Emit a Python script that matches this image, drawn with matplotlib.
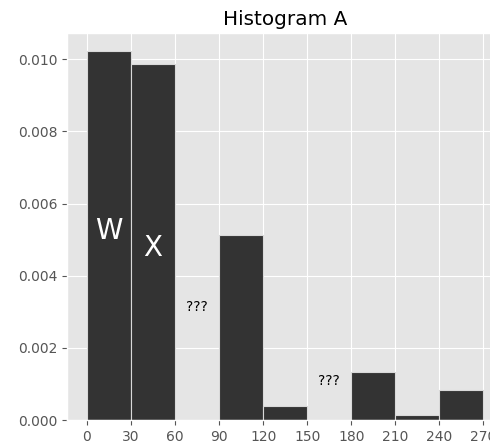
import matplotlib
matplotlib.use("Agg")
import matplotlib.pyplot as plt
import numpy as np

plt.style.use("ggplot")

bin_edges = [0, 30, 60, 90, 120, 150, 180, 210, 240, 270]
densities = [0.01022, 0.00988, 0.0, 0.00514, 0.00039, 0.0, 0.00133, 0.00014, 0.00083]
x_ticks = [0, 30, 60, 90, 120, 150, 180, 210, 240, 270]
y_ticks = [0.000, 0.002, 0.004, 0.006, 0.008, 0.010]
labels = [("W", 15, 0.00525, 20, "white"),
          ("X", 45, 0.00477, 20, "white"),
          ("???", 75, 0.00313, 10, "black"),
          ("???", 165, 0.00108, 10, "black")]

fig = plt.figure(figsize=(4.9, 4.48), dpi=100)
ax = fig.add_axes([0.137, 0.0625, 0.89, 0.864])

widths = np.diff(bin_edges)
ax.bar(bin_edges[:-1], densities, width=widths, align="edge",
       color="#333333", edgecolor="#d9d9d9", linewidth=0.8)

ax.set_xticks(x_ticks)
ax.set_yticks(y_ticks)
ax.set_yticklabels([f"{v:.3f}" for v in y_ticks])
ax.set_xlim(-13.5, 283.5)
ax.set_ylim(0, max(densities) * 1.05)
ax.tick_params(labelsize=10, colors="#555555", labelcolor="#555555")
ax.set_title("Histogram A", fontsize=14.4, color="black")

for txt, x, y, fs, c in labels:
    ax.text(x, y, txt, fontsize=fs, color=c, ha="center", va="center")

fig.savefig("out.png", dpi=100)
